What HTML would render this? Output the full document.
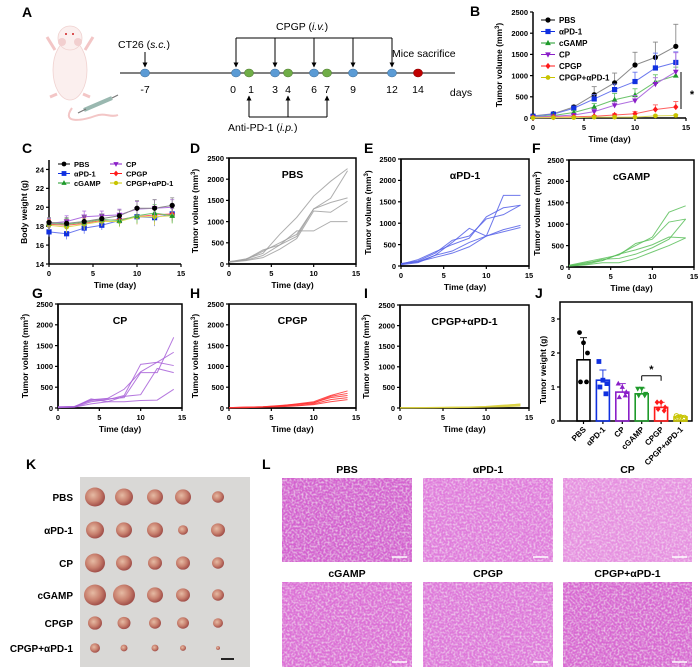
<!DOCTYPE html>
<html><head><meta charset="utf-8">
<style>
html,body{margin:0;padding:0;background:#fff;}
svg{display:block;font-family:"Liberation Sans",Arial,sans-serif;}
</style></head>
<body>
<svg id="fig" width="700" height="671" viewBox="0 0 700 671" xmlns="http://www.w3.org/2000/svg">
<defs>
<filter id="he" x="0" y="0" width="100%" height="100%">
<feTurbulence type="fractalNoise" baseFrequency="0.5" numOctaves="2" seed="3" result="n"/>
<feColorMatrix in="n" type="matrix" values="0 0 0 0 1  0 0 0 0 1  0 0 0 0 1  0 0 0 1.2 -0.5" result="w"/>
<feComposite in="w" in2="SourceGraphic" operator="atop"/>
</filter>
<radialGradient id="tum" cx="40%" cy="40%" r="60%"><stop offset="0" stop-color="#e6bba4"/><stop offset="0.6" stop-color="#c8806e"/><stop offset="1" stop-color="#a2504a"/></radialGradient>
<marker id="ah" viewBox="0 0 10 10" refX="9" refY="5" markerWidth="5" markerHeight="5" orient="auto"><path d="M0,0 L10,5 L0,10 z" fill="#000"/></marker>
</defs>
<g id="root"></g>
</svg>
<script>
// ---------- data ----------
const days = [0,2,4,6,8,10,12,14];
const groups = ["PBS","αPD-1","cGAMP","CP","CPGP","CPGP+αPD-1"];
const groupColors = ["#000000","#1030e0","#1e9a2a","#8a1fc8","#ff1a1a","#c8c400"];
// B: mean tumor volume
const volPBS = [50,100,260,550,830,1250,1430,1690];
const volPD1 = [40,90,230,450,670,860,1180,1310];
const volCGAMP = [30,60,130,260,430,540,850,1000];
const volCP = [20,40,70,150,300,410,800,1090];
const volCPGP = [10,20,30,40,70,100,200,260];
const volCombo = [5,10,10,20,20,20,50,60];
const errPBS = [30,30,40,190,230,300,360,520];
const errPD1 = [20,30,50,100,130,220,350,250];
const errCGAMP = [10,20,40,80,150,150,170,200];
const errCP = [10,15,30,60,80,120,150,450];
const errCPGP = [5,10,10,20,30,50,110,130];
const errCombo = [3,5,5,8,8,8,20,20];
// C: body weight
const bwPBS = [18.4,18.3,18.5,18.8,19.1,19.9,19.9,20.2];
const bwPD1 = [17.4,17.2,17.8,18.1,18.6,19.0,18.9,19.3];
const bwCGAMP = [18.3,18.2,18.4,18.7,18.6,19.1,19.4,19.1];
const bwCP = [18.3,18.5,19.0,19.1,19.2,19.8,19.9,20.0];
const bwCPGP = [18.2,18.1,18.3,18.6,18.7,19.0,19.2,19.3];
const bwCombo = [18.1,17.9,18.2,18.5,18.5,19.0,19.0,19.1];
const bwErr = [0.5,0.6,0.6,0.5,0.6,0.8,0.9,0.8];
// D-I individual mice
const indPBS = [[50,120,250,700,1100,1600,1950,2250],[40,100,300,500,700,1300,1550,2200],[60,90,200,450,650,1300,1450,1560],[50,110,330,450,780,780,1000,1000],[40,80,150,350,600,1250,1220,1480]];
const indPD1 = [[50,100,250,550,880,700,1650,1650],[60,120,300,600,700,1100,1200,1420],[40,150,330,500,650,1150,1360,1420],[30,80,250,350,550,700,850,950],[50,100,200,300,450,700,800,900]];
const indCGAMP = [[30,100,150,300,500,700,1280,1430],[40,120,200,280,550,650,1050,1120],[20,60,150,300,400,520,700,680],[30,80,180,200,300,450,650,1120],[20,50,100,100,200,350,500,680]];
const indCP = [[20,30,200,230,450,870,1100,1020],[10,20,150,200,300,1050,1100,1340],[30,40,180,220,250,850,850,1700],[10,20,100,150,150,180,190,450],[20,30,220,150,280,320,950,850]];
const indCPGP = [[10,20,30,50,100,150,300,410],[10,20,30,60,90,120,280,350],[10,15,25,50,80,130,250,300],[5,10,20,40,60,100,200,250],[5,10,20,30,50,80,150,200]];
const indCombo = [[5,10,10,15,20,30,60,100],[5,10,15,20,25,40,70,90],[5,8,10,15,20,30,50,80],[3,5,10,10,15,25,40,60],[3,5,8,10,15,20,30,50]];
// J: tumor weight (category order as in panel J)
const twGroups = ["PBS","αPD-1","CP","cGAMP","CPGP","CPGP+αPD-1"];
const twMean = [1.8,1.2,0.85,0.8,0.4,0.12];
const twErr = [0.65,0.3,0.25,0.17,0.15,0.04];
const twPoints = [[2.6,2.3,2.0,1.15,1.15],[1.75,1.2,1.1,1.0,0.8],[1.1,1.0,0.85,0.7,0.75],[0.95,0.95,0.8,0.75,0.75],[0.55,0.55,0.4,0.35,0.3],[0.15,0.12,0.1,0.1,0.05]];
const volTicks = [0,500,1000,1500,2000,2500];
const dayTicks = [0,5,10,15];
const bwTicks = [14,16,18,20,22,24];
const twTicks = [0,1,2,3];

// ---------- helpers ----------
const NS = "http://www.w3.org/2000/svg";
const root = document.getElementById('root');
function mk(tag, parent){ const e=document.createElementNS(NS,tag); (parent||root).appendChild(e); return e; }
function sa(e, o){ for(const k in o) e.setAttribute(k,o[k]); return e; }
function txt(s,x,y,size,opts,parent){
  const t=mk('text',parent); t.textContent=s;
  sa(t,{x:x,y:y,'font-size':size,'text-anchor':(opts&&opts.anchor)||'middle'});
  if(!opts||opts.bold!==false) t.setAttribute('font-weight','bold');
  if(opts&&opts.rot) t.setAttribute('transform','rotate('+opts.rot+' '+x+' '+y+')');
  if(opts&&opts.fill) t.setAttribute('fill',opts.fill);
  return t;
}
function line(x1,y1,x2,y2,stroke,w,parent){ return sa(mk('line',parent),{x1:x1,y1:y1,x2:x2,y2:y2,stroke:stroke,'stroke-width':w}); }
function panelLabel(s,x,y){ const t=txt(s,x,y,14,{anchor:'start'});   }
function scale(d0,d1,p0,p1){ return v=>p0+(v-d0)*(p1-p0)/(d1-d0); }

function axes(cfg){
  const g=mk('g'); 
  
  
  const X=scale(cfg.xd[0],cfg.xd[1],cfg.x0,cfg.x1), Y=scale(cfg.yd[0],cfg.yd[1],cfg.y0,cfg.y1);
  if(cfg.box){ sa(mk('rect',g),{x:cfg.x0,y:cfg.y1,width:cfg.x1b-cfg.x0,height:cfg.y0-cfg.y1,fill:'none',stroke:'#000','stroke-width':1.5}); }
  line(cfg.x0,cfg.y0,cfg.x0,cfg.y1,'#000',1.5,g);
  line(cfg.x0,cfg.y0,cfg.x1b||cfg.x1,cfg.y0,'#000',1.5,g);
  cfg.yt.forEach(v=>{ line(cfg.x0-3,Y(v),cfg.x0,Y(v),'#000',1.2,g); txt(String(v),cfg.x0-5,Y(v)+2.8,7.5,{anchor:'end'},g); });
  if(cfg.xt) cfg.xt.forEach(v=>{ line(X(v),cfg.y0,X(v),cfg.y0+3,'#000',1.2,g); txt(String(v),X(v),cfg.y0+12,7.5,{},g); });
  if(cfg.ytitle){ const t=txt(cfg.ytitle,cfg.ytx,(cfg.y0+cfg.y1)/2,8.5,{rot:-90},g);   if(cfg.mm3){ t.textContent='Tumor volume (mm'; const s=mk('tspan',t); s.textContent='3'; sa(s,{'font-size':6,dy:-3}); const s2=mk('tspan',t); s2.textContent=')'; sa(s2,{dy:3}); } }
  if(cfg.xtitle){ const t=txt(cfg.xtitle,(cfg.x0+(cfg.x1b||cfg.x1))/2,cfg.y0+24,8.5,{},g);   }
  return {X:X,Y:Y};
}
function marker(shape,x,y,c,r,parent){
  let e;
  if(shape==='circle') e=sa(mk('circle',parent),{cx:x,cy:y,r:r,fill:c});
  else if(shape==='square') e=sa(mk('rect',parent),{x:x-r,y:y-r,width:2*r,height:2*r,fill:c});
  else if(shape==='tri') e=sa(mk('path',parent),{d:`M${x},${y-r*1.2} L${x+r*1.1},${y+r*0.8} L${x-r*1.1},${y+r*0.8} Z`,fill:c});
  else if(shape==='dtri') e=sa(mk('path',parent),{d:`M${x},${y+r*1.2} L${x+r*1.1},${y-r*0.8} L${x-r*1.1},${y-r*0.8} Z`,fill:c});
  else if(shape==='diamond') e=sa(mk('path',parent),{d:`M${x},${y-r*1.2} L${x+r},${y} L${x},${y+r*1.2} L${x-r},${y} Z`,fill:c});
  else e=sa(mk('circle',parent),{cx:x,cy:y,r:r*0.9,fill:c});
  return e;
}
const shapes=['circle','square','tri','dtri','diamond','hex'];
const lightColors=['#8a8a8a','#6b78ee','#6cc46c','#b070e0','#ff6060','#dcd85a'];

// ---------- Panel A: schedule ----------
(function(){
  panelLabel('A',22,17);
  const m=mk('g');  
  sa(mk('path',m),{d:'M72,108 C60,125 85,120 95,116 C105,112 110,118 118,115',fill:'none',stroke:'#f3c6c6','stroke-width':2});
  sa(mk('ellipse',m),{cx:70,cy:70,rx:17,ry:30,fill:'#fbefee',stroke:'#f0d2d0','stroke-width':0.8});
  sa(mk('ellipse',m),{cx:70,cy:38,rx:12,ry:12,fill:'#fbefee',stroke:'#f0d2d0','stroke-width':0.8});
  sa(mk('circle',m),{cx:62,cy:42,r:4,fill:'#f2cfcf'}); sa(mk('circle',m),{cx:78,cy:42,r:4,fill:'#f2cfcf'});
  sa(mk('circle',m),{cx:66,cy:34,r:1,fill:'#d02020'}); sa(mk('circle',m),{cx:73,cy:34,r:1,fill:'#d02020'});
  sa(mk('path',m),{d:'M55,50 L47,37 M85,50 L93,37 M57,94 L50,97 M83,94 L90,97',stroke:'#f3c6c6','stroke-width':3,fill:'none'});
  sa(mk('path',m),{d:'M84,110 L112,98',stroke:'#9ab8b0','stroke-width':4});
  sa(mk('path',m),{d:'M78,113 L86,109 M112,98 L118,95',stroke:'#777','stroke-width':1.2});
  const g=mk('g');  
  const T=scale(-7,14,145,418);
  line(120,73,455,73,'#000',1,g);
  const blue=[-7,0,3,6,9,12], green=[1,4,7];
  blue.forEach(d=>sa(mk('ellipse',g),{cx:T(d),cy:73,rx:4.5,ry:4,fill:'#5b9bd5',stroke:'#41719c','stroke-width':0.6}));
  green.forEach(d=>sa(mk('ellipse',g),{cx:T(d),cy:73,rx:4.5,ry:4,fill:'#70ad47',stroke:'#507e32','stroke-width':0.6}));
  sa(mk('ellipse',g),{cx:T(14),cy:73,rx:4.5,ry:4,fill:'#c00000',stroke:'#800','stroke-width':0.6});
  [-7,0,1,3,4,6,7,9,12,14].forEach(d=>{ const dx=(d===0)?-3:(d===1?2:0); txt(String(d),T(d)+dx,93,10.5,{bold:false},g); });
  txt('days',461,96,10.5,{bold:false},g);
  const c1=txt('CT26 (',118,48,10.5,{bold:false,anchor:'start'},g); const it=mk('tspan',c1); it.textContent='s.c.'; it.setAttribute('font-style','italic'); const it2=mk('tspan',c1); it2.textContent=')';
  sa(mk('line',g),{x1:T(-7),y1:52,x2:T(-7),y2:67,stroke:'#000','stroke-width':1,'marker-end':'url(#ah)'});
  line(T(0),38,T(12),38,'#000',1,g);
  blue.slice(1).forEach(d=>sa(mk('line',g),{x1:T(d),y1:38,x2:T(d),y2:67,stroke:'#000','stroke-width':1,'marker-end':'url(#ah)'}));
  const c2=txt('CPGP (',276,30,10.5,{bold:false,anchor:'start'},g); const i3=mk('tspan',c2); i3.textContent='i.v.'; i3.setAttribute('font-style','italic'); const i4=mk('tspan',c2); i4.textContent=')';
  txt('Mice sacrifice',392,57,10.5,{bold:false,anchor:'start'},g);
  line(T(1),117,T(7),117,'#000',1,g);
  green.forEach(d=>sa(mk('line',g),{x1:T(d),y1:117,x2:T(d),y2:96,stroke:'#000','stroke-width':1,'marker-end':'url(#ah)'}));
  const c3=txt('Anti-PD-1 (',228,131,10.5,{bold:false,anchor:'start'},g); const i5=mk('tspan',c3); i5.textContent='i.p.'; i5.setAttribute('font-style','italic'); const i6=mk('tspan',c3); i6.textContent=')';
})();

// ---------- Panel B ----------
(function(){
  panelLabel('B',470,16);
  const a=axes({name:'chart-b',x0:533,x1:686,y0:118,y1:12,xd:[0,15],yd:[0,2500],yt:volTicks,xt:dayTicks,ytitle:'x',ytx:502,mm3:true,xtitle:'Time (day)'});
  const means=[volPBS,volPD1,volCGAMP,volCP,volCPGP,volCombo], errs=[errPBS,errPD1,errCGAMP,errCP,errCPGP,errCombo];
  means.forEach((ser,gi)=>{
    const g=mk('g');
    
    
    ser.forEach((v,i)=>{ line(a.X(days[i]),a.Y(v),a.X(days[i]),a.Y(v+errs[gi][i]),lightColors[gi],0.9,g); line(a.X(days[i])-2.5,a.Y(v+errs[gi][i]),a.X(days[i])+2.5,a.Y(v+errs[gi][i]),lightColors[gi],0.9,g); });
    sa(mk('polyline',g),{points:ser.map((v,i)=>a.X(days[i])+','+a.Y(v)).join(' '),fill:'none',stroke:lightColors[gi],'stroke-width':1});
    ser.forEach((v,i)=>marker(shapes[gi],a.X(days[i]),a.Y(v),groupColors[gi],2.6,g));
  });
  const lg=mk('g');  
  groups.forEach((n,gi)=>{ const y=20+gi*11.5; line(541,y,555,y,groupColors[gi],1,lg); marker(shapes[gi],548,y,groupColors[gi],2.6,lg); const t=txt(n,559,y+3,8,{anchor:'start'},lg);   });
  line(681,72,681,109,'#000',1,root);
  txt('*',692,98,11);
})();

// ---------- Panel C ----------
(function(){
  panelLabel('C',22,153);
  const a=axes({name:'chart-c',x0:49,x1:181,y0:264,y1:160,xd:[0,15],yd:[14,25],yt:bwTicks,xt:dayTicks,ytitle:'Body weight (g)',ytx:27,xtitle:'Time (day)'});
  const ser=[bwPBS,bwPD1,bwCGAMP,bwCP,bwCPGP,bwCombo];
  [1,4,5,2,3,0].forEach(gi=>{
    const g=mk('g');
    
    
    ser[gi].forEach((v,i)=>{ line(a.X(days[i]),a.Y(v-bwErr[i]),a.X(days[i]),a.Y(v+bwErr[i]),lightColors[gi],0.8,g); line(a.X(days[i])-2,a.Y(v+bwErr[i]),a.X(days[i])+2,a.Y(v+bwErr[i]),lightColors[gi],0.8,g); });
    sa(mk('polyline',g),{points:ser[gi].map((v,i)=>a.X(days[i])+','+a.Y(v)).join(' '),fill:'none',stroke:lightColors[gi],'stroke-width':1});
    ser[gi].forEach((v,i)=>marker(shapes[gi],a.X(days[i]),a.Y(v),groupColors[gi],2.6,g));
  });
  const lg=mk('g');  
  groups.forEach((n,gi)=>{ const col=gi<3?0:1, row=gi%3; const x=col?110:58, y=164+row*9.5; line(x,y,x+12,y,groupColors[gi],1,lg); marker(shapes[gi],x+6,y,groupColors[gi],2.4,lg); const t=txt(n,x+16,y+3,7.5,{anchor:'start'},lg);   });
})();

// ---------- Spaghetti panels D-I ----------
function spaghetti(label,lx,ly,name,x0,x1,y0,y1,ytx,title,data,color){
  panelLabel(label,lx,ly);
  const a=axes({name:name,x0:x0,x1:x1,x1b:x1,y0:y0,y1:y1,xd:[0,15],yd:[0,2500],yt:volTicks,xt:dayTicks,ytitle:'x',ytx:ytx,mm3:true,xtitle:'Time (day)',box:true});
  const t=txt(title,(x0+x1)/2,y1+20,10.5);  
  data.forEach((ser,mi)=>{
    const p=mk('polyline');
    sa(p,{points:ser.map((v,i)=>a.X(days[i])+','+a.Y(v)).join(' '),fill:'none',stroke:color,'stroke-width':1,'stroke-opacity':0.85});
    
    
  });
}
spaghetti('D',190,153,'chart-d',229,356,264,158,198,'PBS',indPBS,'#a0a0a0');
spaghetti('E',364,153,'chart-e',401,529,266,159,371,'αPD-1',indPD1,'#5560e8');
spaghetti('F',532,153,'chart-f',569,694,267,160,540,'cGAMP',indCGAMP,'#5cbf5c');
spaghetti('G',32,298,'chart-g',58,182,408,304,28,'CP',indCP,'#a860d8');
spaghetti('H',190,298,'chart-h',229,356,408,304,198,'CPGP',indCPGP,'#ff3030');
spaghetti('I',364,298,'chart-i',400,529,408,305,369,'CPGP+αPD-1',indCombo,'#d8d040');

// ---------- Panel J ----------
(function(){
  panelLabel('J',535,298);
  const x0=560,x1=692,y0=421,y1=302;
  const Y=scale(0,3,y0,319);
  const jColors=["#000000","#1030e0","#8a1fc8","#1e9a2a","#ff1a1a","#c8c400"];
  const jShapes=['circle','square','tri','dtri','diamond','open'];
  const g=mk('g');  
  sa(mk('rect',g),{x:x0,y:y1,width:x1-x0,height:y0-y1,fill:'none',stroke:'#000','stroke-width':1.5});
  twTicks.forEach(v=>{ line(x0-3,Y(v),x0,Y(v),'#000',1.2,g); txt(String(v),x0-5,Y(v)+2.8,7.5,{anchor:'end'},g); });
  const yt=txt('Tumor weight (g)',546,(Y(0)+Y(3))/2,8.5,{rot:-90},g);  
  const step=19.4, c0=583.5;
  twMean.forEach((m,i)=>{
    const cx=c0+i*step, col=jColors[i];
    const bg=mk('g');  
    sa(mk('rect',bg),{x:cx-6.5,y:Y(m),width:13,height:Y(0)-Y(m),fill:'none',stroke:col,'stroke-width':1.6});
    line(cx,Y(m),cx,Y(m+twErr[i]),col,0.9,bg); line(cx-3.5,Y(m+twErr[i]),cx+3.5,Y(m+twErr[i]),col,0.9,bg);
    twPoints[i].forEach((v,k)=>{ const dx=[-4,0,4,-3,3][k]; if(jShapes[i]==='open') sa(mk('circle',bg),{cx:cx+dx,cy:Y(v),r:2.3,fill:'none',stroke:col,'stroke-width':1}); else marker(jShapes[i],cx+dx,Y(v),col,2.4,bg); });
    line(cx,Y(0),cx,Y(0)+3,'#000',1.2,g);
    txt(twGroups[i],cx+3,Y(0)+9,8,{anchor:'end',rot:-45},g);
  });
  const sy=Y(1.33);
  line(c0+3*step,sy+5,c0+3*step,sy,'#000',1,g); line(c0+3*step,sy,c0+4*step,sy,'#000',1,g); line(c0+4*step,sy,c0+4*step,sy+5,'#000',1,g);
  txt('*',c0+3.5*step,sy-3,11,{},g);
})();

// ---------- Panel K ----------
(function(){
  panelLabel('K',26,469);
  const g=mk('g');  
  sa(mk('rect',g),{x:80,y:477,width:170,height:190,fill:'#d9d8d6'});
  const rowsY=[497,530,563,595,623,648], colsX=[95,124,155,183,218];
  const sizes=[[10,9,8,8,6],[9,8,8,5,7],[10,8,7,7,6],[11,11,8,7,6],[7,6.5,6,6,5],[5,3.5,3.5,3,2]];
  const names=['PBS','αPD-1','CP','cGAMP','CPGP','CPGP+αPD-1'];
  rowsY.forEach((y,r)=>{
    const t=txt(names[r],73,y+4,10,{anchor:'end'});  
    colsX.forEach((x,c)=>{ const s=sizes[r][c]; sa(mk('ellipse',g),{cx:x,cy:y,rx:s,ry:s*0.95,fill:'url(#tum)'}); });
  });
  line(221,659,234,659,'#111',1.8,g);
})();

// ---------- Panel L ----------
(function(){
  panelLabel('L',262,469);
  const cols=[[282,412],[423,553],[563,692]], rows=[[478,562],[582,667]];
  const names=[['PBS','αPD-1','CP'],['cGAMP','CPGP','CPGP+αPD-1']];
  const base=[['#d462d0','#e07cdc','#e690e0'],['#dc70d6','#de78da','#d868d2']];
  rows.forEach((ry,r)=>cols.forEach((cx,c)=>{
    const g=mk('g');  
    sa(mk('rect',g),{x:cx[0],y:ry[0],width:cx[1]-cx[0],height:ry[1]-ry[0],fill:base[r][c],filter:'url(#he)'});
    line(cx[1]-20,ry[1]-5,cx[1]-5,ry[1]-5,'#fff',1.5,g);
    txt(names[r][c],(cx[0]+cx[1])/2,ry[0]-5,10.5);
  }));
})();
</script>
</body></html>
